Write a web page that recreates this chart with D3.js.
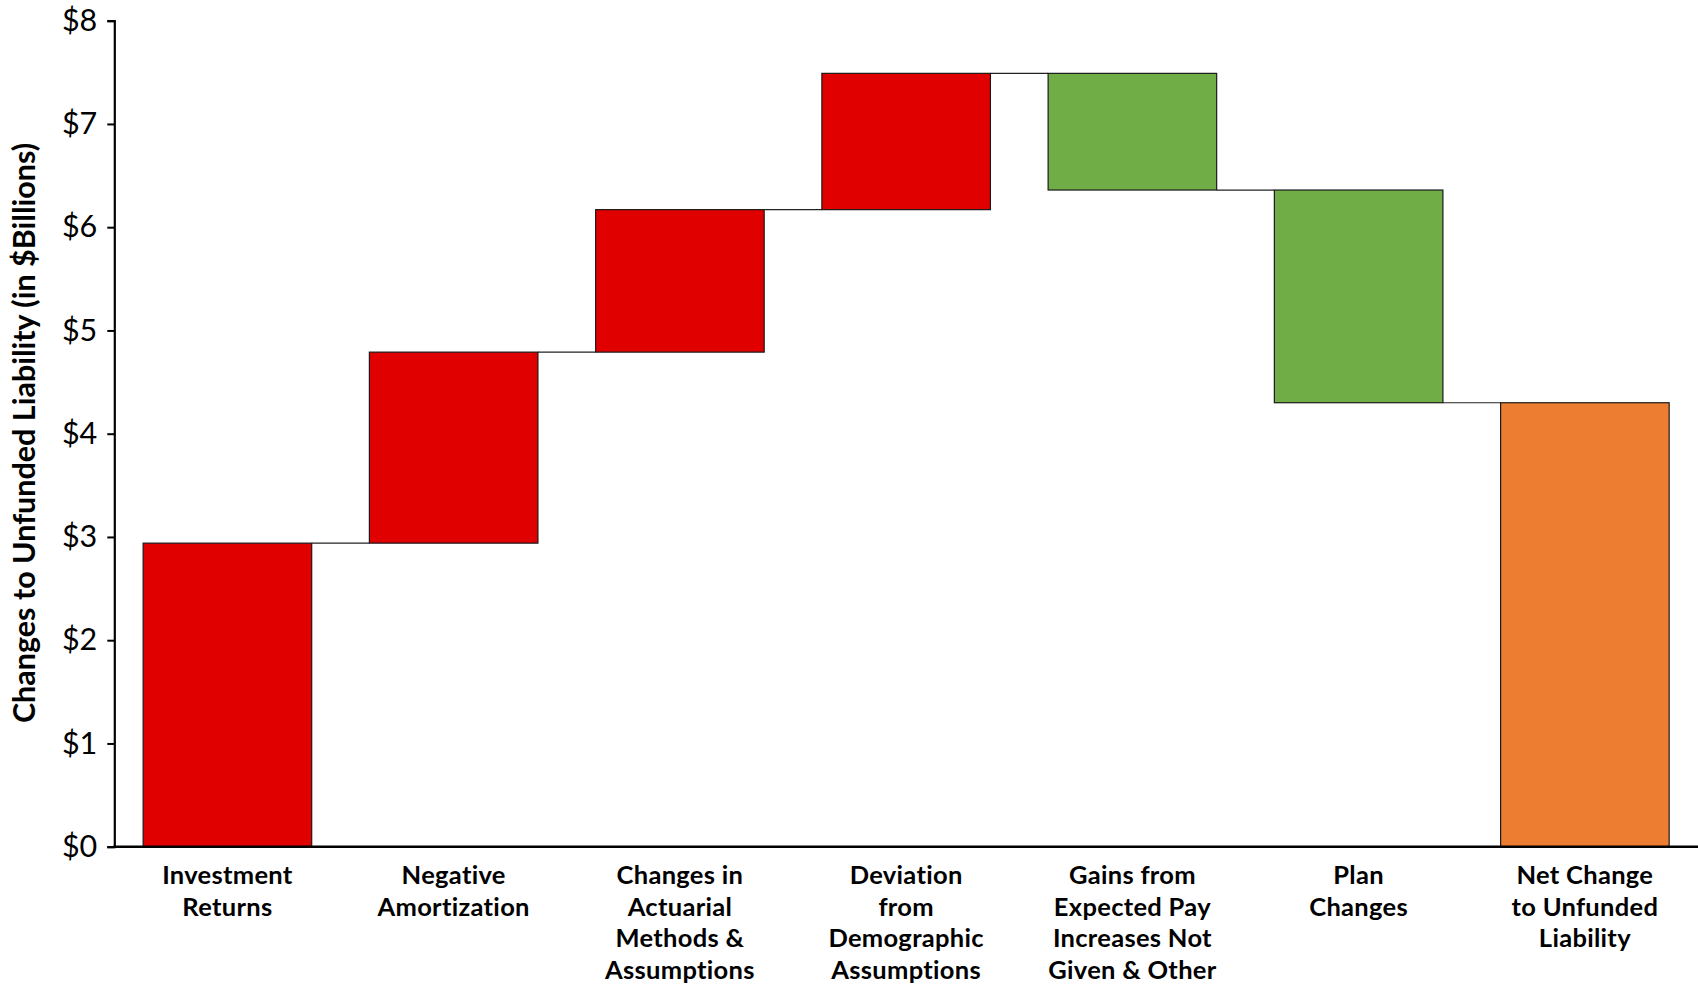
<!DOCTYPE html>
<html>
<head>
<meta charset="utf-8">
<script src="https://cdn.jsdelivr.net/npm/d3@7"></script>
<style>
  html, body { margin: 0; padding: 0; background: #fff; }
  svg { display: block; }
</style>
</head>
<body>
<svg id="chart" width="1698" height="987"></svg>
<script>
// ---- data ----
const categories = [
  ["Investment", "Returns"],
  ["Negative", "Amortization"],
  ["Changes in", "Actuarial", "Methods &", "Assumptions"],
  ["Deviation", "from", "Demographic", "Assumptions"],
  ["Gains from", "Expected Pay", "Increases Not", "Given & Other"],
  ["Plan", "Changes"],
  ["Net Change", "to Unfunded", "Liability"]
];
const changes = [2.94, 1.85, 1.38, 1.32, -1.13, -2.06]; // $ billions
const netChange = 4.30;
const kinds = ["increase", "increase", "increase", "increase", "decrease", "decrease", "total"];
const yTicks = [0, 1, 2, 3, 4, 5, 6, 7, 8];
const yTitle = "Changes to Unfunded Liability (in $Billions)";

(function () {
// ---- build waterfall segments ----
const segs = [];
let run = 0;
changes.forEach((c, i) => {
  const start = run; run += c;
  segs.push({ i, lo: Math.min(start, run), hi: Math.max(start, run), end: run, kind: kinds[i] });
});
segs.push({ i: 6, lo: 0, hi: netChange, end: netChange, kind: "total" });

const colors = { increase: "#E00000", decrease: "#70AD47", total: "#ED7D31" };

const svg = d3.select("#chart");
const mLeft = 114.3, mRight = 1698, mTop = 20.7, mBottom = 846.7;

const x = d3.scaleBand().domain(d3.range(categories.length)).range([mLeft, mRight])
  .paddingInner(0.255).paddingOuter(0.1275);
const y = d3.scaleLinear().domain([0, 8]).range([mBottom, mTop]);

const font = "Lato, 'Open Sans', sans-serif";

// connectors
const g = svg.append("g");
for (let k = 0; k < segs.length - 1; k++) {
  const lvl = segs[k].end;
  g.append("line")
    .attr("x1", x(k) + x.bandwidth()).attr("x2", x(k + 1))
    .attr("y1", y(lvl)).attr("y2", y(lvl))
    .attr("stroke", "#222").attr("stroke-width", 1.2);
}

// bars
g.selectAll("rect.bar").data(segs).join("rect")
  .attr("class", "bar")
  .attr("x", d => x(d.i))
  .attr("width", x.bandwidth())
  .attr("y", d => y(d.hi))
  .attr("height", d => y(d.lo) - y(d.hi))
  .attr("fill", d => colors[d.kind])
  .attr("stroke", "#1a1a1a").attr("stroke-width", 1.2);

// y axis
const yAxis = d3.axisLeft(y).tickValues(yTicks).tickFormat(d => "$" + d).tickSize(7).tickPadding(10);
const ya = svg.append("g").attr("transform", `translate(${mLeft},0)`).call(yAxis);
ya.select(".domain").attr("stroke", "#000").attr("stroke-width", 2.2);
ya.selectAll(".tick line").attr("stroke", "#000").attr("stroke-width", 2);
ya.selectAll(".tick text").attr("font-family", font).attr("font-size", 30.5).attr("fill", "#000");

// x axis line
svg.append("line").attr("x1", mLeft - 1).attr("x2", mRight).attr("y1", mBottom).attr("y2", mBottom)
  .attr("stroke", "#000").attr("stroke-width", 2.4);

// x labels
const lab = svg.append("g");
categories.forEach((lines, i) => {
  const cx = x(i) + x.bandwidth() / 2;
  const t = lab.append("text")
    .attr("x", cx)
    .attr("y", 884)
    .attr("text-anchor", "middle")
    .attr("font-family", font).attr("font-weight", "bold")
    .attr("font-size", 25.5).attr("letter-spacing", 0.3).attr("fill", "#000");
  lines.forEach((ln, j) => {
    t.append("tspan").attr("x", cx).attr("y", 884 + j * 31.5).text(ln);
  });
});

// y title
svg.append("text")
  .attr("transform", `translate(35,433) rotate(-90)`)
  .attr("text-anchor", "middle")
  .attr("font-family", font).attr("font-weight", "bold")
  .attr("font-size", 30.5).attr("fill", "#000")
  .text(yTitle);
})();
</script>
</body>
</html>
